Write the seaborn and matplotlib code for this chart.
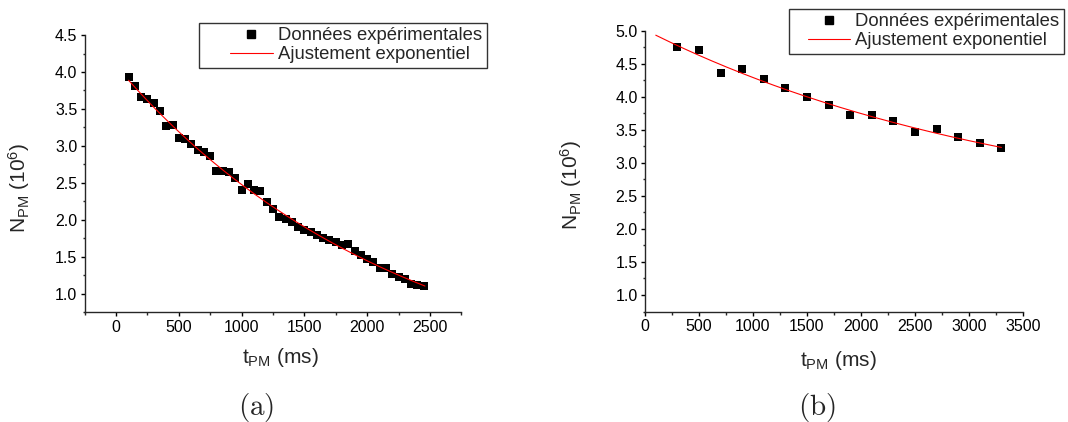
import numpy as np
import pandas as pd
import matplotlib
matplotlib.use("Agg")
import matplotlib.pyplot as plt
from matplotlib.lines import Line2D
from matplotlib.legend_handler import HandlerLine2D
from matplotlib.ticker import MultipleLocator
import seaborn as sns

# Panel (a): PM atom number vs holding time
t_a = [100, 150, 200, 250, 300, 350, 400, 450, 500, 550, 600, 650, 700, 750,
       800, 850, 900, 950, 1000, 1050, 1100, 1150, 1200, 1250, 1300, 1350,
       1400, 1450, 1500, 1550, 1600, 1650, 1700, 1750, 1800, 1850, 1900, 1950,
       2000, 2050, 2100, 2150, 2200, 2250, 2300, 2350, 2400, 2450]
n_a = [3.93, 3.81, 3.665, 3.63, 3.58, 3.475, 3.27, 3.28, 3.11, 3.095, 3.03,
       2.945, 2.915, 2.865, 2.66, 2.66, 2.645, 2.56, 2.41, 2.485, 2.41, 2.39,
       2.235, 2.15, 2.045, 2.015, 1.97, 1.91, 1.865, 1.835, 1.80, 1.76, 1.73,
       1.70, 1.655, 1.675, 1.58, 1.525, 1.47, 1.43, 1.345, 1.345, 1.27, 1.23,
       1.195, 1.135, 1.115, 1.10]

# Panel (b)
t_b = [300, 500, 700, 900, 1100, 1300, 1500, 1700, 1900, 2100, 2300, 2500,
       2700, 2900, 3100, 3300]
n_b = [4.747, 4.706, 4.357, 4.428, 4.266, 4.139, 3.997, 3.871, 3.719, 3.719,
       3.633, 3.471, 3.506, 3.39, 3.30, 3.218]

# range over which the fitted curve is drawn
fit_range_a = [100, 2460]
fit_range_b = [100, 3300]

label_data = "Données expérimentales"
label_fit = "Ajustement exponentiel"


def exp_fit(t, y):
    # y = y0 + A exp(-t/tau), tau by grid search, y0 and A by least squares
    t = np.asarray(t, float)
    y = np.asarray(y, float)
    best = None
    for tau in np.linspace(300, 30000, 3000):
        M = np.column_stack([np.ones_like(t), np.exp(-t / tau)])
        coef, res, _, _ = np.linalg.lstsq(M, y, rcond=None)
        err = np.sum((M @ coef - y) ** 2)
        if best is None or err < best[0]:
            best = (err, coef[0], coef[1], tau)
    _, y0, A, tau = best
    return lambda x: y0 + A * np.exp(-np.asarray(x) / tau)


sns.set_style("ticks")
plt.rcParams["font.family"] = ["Liberation Sans", "DejaVu Sans"]
plt.rcParams["mathtext.fontset"] = "custom"
plt.rcParams["mathtext.rm"] = "Liberation Sans"
plt.rcParams["mathtext.it"] = "Liberation Sans:italic"
plt.rcParams["axes.linewidth"] = 1.0
plt.rcParams["xtick.major.size"] = 3.2
plt.rcParams["ytick.major.size"] = 3.2
plt.rcParams["xtick.minor.size"] = 1.8
plt.rcParams["ytick.minor.size"] = 1.8
plt.rcParams["xtick.major.width"] = 1.0
plt.rcParams["ytick.major.width"] = 1.0
plt.rcParams["xtick.minor.width"] = 1.0
plt.rcParams["ytick.minor.width"] = 1.0

fig = plt.figure(figsize=(10.68, 4.22), dpi=100)
ax_a = fig.add_axes([0.0792, 0.260, 0.3528, 0.657])
ax_b = fig.add_axes([0.6039, 0.2618, 0.354, 0.6654])

# (axes, t, n, fit range, xlim, ylim, legend corner px, handle pad, handle len,
#  ylabel coords, xlabel coords, caption, caption x px)
panels = [
    (ax_a, t_a, n_a, fit_range_a, (-250, 2750), (0.75, 4.5), (199, 22.7),
     1.42, 3.75, (-0.14, 0.45), (0.519, -0.12), "(a)", 256),
    (ax_b, t_b, n_b, fit_range_b, (0, 3500), (0.75, 5.0), (789, 8.7),
     0.8, 3.03, (-0.161, 0.45), (0.511, -0.135), "(b)", 817),
]

for (ax, t, n, rng, xl, yl, leg_pos, xpad, hlen, ylc, xlc, tag, tag_x) in panels:
    f = exp_fit(t, n)
    tt = np.linspace(rng[0], rng[1], 200)
    fit_df = pd.DataFrame({"t": tt, "n": f(tt)})
    data_df = pd.DataFrame({"t": t, "n": n})

    sns.lineplot(data=fit_df, x="t", y="n", ax=ax, color="red", lw=0.8, zorder=3)
    sns.scatterplot(data=data_df, x="t", y="n", ax=ax, marker="s", color="black",
                    s=36, linewidth=0, zorder=2)

    ax.set_xlim(*xl)
    ax.set_ylim(*yl)
    ax.xaxis.set_major_locator(MultipleLocator(500))
    ax.xaxis.set_minor_locator(MultipleLocator(250))
    ax.yaxis.set_major_locator(MultipleLocator(0.5))
    ax.yaxis.set_minor_locator(MultipleLocator(0.25))
    ax.yaxis.set_major_formatter(plt.FormatStrFormatter("%.1f"))
    ax.tick_params(labelsize=11.5, colors="black", pad=2)
    sns.despine(ax=ax)

    ax.set_xlabel(r"t$_{\mathregular{PM}}$ (ms)", fontsize=15)
    ax.set_ylabel(r"N$_{\mathregular{PM}}$ (10$^{\mathregular{6}}$)", fontsize=15)
    ax.yaxis.set_label_coords(*ylc)
    ax.xaxis.set_label_coords(*xlc)

    handles = [Line2D([], [], ls="none", marker="s", color="black", markersize=5.5),
               Line2D([], [], color="red", lw=0.8)]
    leg = ax.legend(handles, [label_data, label_fit], loc="upper left",
                    bbox_to_anchor=(leg_pos[0] / 1068, 1 - leg_pos[1] / 422),
                    bbox_transform=fig.transFigure, fontsize=13.3, frameon=True,
                    fancybox=False, borderpad=0.25, labelspacing=0.1,
                    handlelength=hlen, handletextpad=0.3, borderaxespad=0,
                    handler_map={Line2D: HandlerLine2D(xpad=xpad)})
    leg.get_frame().set_edgecolor("black")
    leg.get_frame().set_linewidth(1.0)

    fig.text(tag_x / 1068, 1 - 407 / 422, r"$\mathrm{" + tag + "}$", ha="center",
             va="center", fontsize=21, math_fontfamily="cm")

fig.savefig("out.png", dpi=100)
